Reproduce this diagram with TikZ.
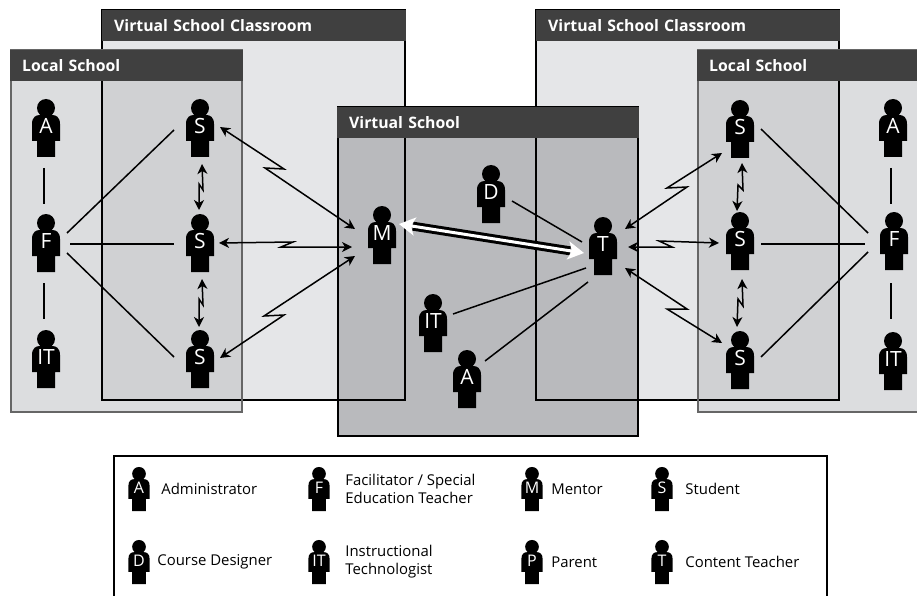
\documentclass[tikz,border=0pt]{standalone}
\usepackage{fontspec}
\setmainfont{Open Sans}
\usetikzlibrary{arrows.meta,calc,positioning}
\definecolor{classfill}{HTML}{E5E6E8}
\definecolor{localfill}{HTML}{DCDDDF}
\definecolor{bothfill}{HTML}{D0D1D3}
\definecolor{virtualfill}{HTML}{B9BABD}
\definecolor{headerfill}{HTML}{404040}
\definecolor{localgray}{HTML}{666666}
\newcommand{\personfig}[2]{%
	\fill [black, shift={(#1)}, scale=#2]
		(0,-20) circle (9)
		(-14,13) -- (-14,-4) .. controls (-14,-11) and (-10,-13) .. (-6,-13) -- (6,-13)
		.. controls (10,-13) and (14,-11) .. (14,-4) -- (14,13) -- (9,13) -- (9,29)
		-- (-9,29) -- (-9,13) -- cycle;
}
\newcommand{\person}[3]{%
	\personfig{#2}{1}
	\node [personletter] (#1) at (#2) {#3};
}
\newcommand{\keyperson}[3]{%
	\personfig{#2}{0.76}
	\node [keyletter] (#1) at (#2) {#3};
}
\tikzstyle{personletter}=[
	rectangle,
	inner sep=0pt,
	minimum width=28pt,
	minimum height=58pt,
	text=white,
	text height=15pt,
	text depth=4pt,
	font=\fontsize{21}{21}\selectfont
]
\tikzstyle{keyletter}=[
	rectangle,
	inner sep=0pt,
	minimum width=22pt,
	minimum height=44pt,
	text=white,
	text height=11.5pt,
	text depth=3pt,
	font=\fontsize{16}{16}\selectfont
]
\tikzstyle{keytext}=[
	inner sep=0pt,
	align=left,
	font=\fontsize{14.9}{18}\selectfont
]
\tikzstyle{header}=[
	rectangle,
	anchor=north west,
	fill=headerfill,
	text=white,
	inner xsep=12pt,
	inner ysep=0pt,
	minimum height=31pt,
	font=\fontsize{15.8}{17}\selectfont\bfseries
]
\tikzstyle{plainlink}=[
	line width=1.5pt
]
\tikzstyle{boltlink}=[
	<->,
	>={Stealth[length=10pt,width=10pt,inset=3pt]},
	line width=1.5pt,
	line join=miter
]
\tikzstyle{classedge}=[
	line width=2pt,
	black
]
\tikzstyle{localedge}=[
	line width=2.2pt,
	localgray
]

\begin{document}
\begin{tikzpicture}[x=1pt,y=-1pt]
\clip (0,0) rectangle (917,596);
% panels
\fill [classfill] (102,10) rectangle (405,400);
\fill [classfill] (536,10) rectangle (839,400);
\fill [localfill] (11,50) rectangle (242,412);
\fill [localfill] (698,50) rectangle (925,412);
\fill [bothfill] (102,50) rectangle (242,400);
\fill [bothfill] (698,50) rectangle (839,400);
\fill [virtualfill] (338,107) rectangle (638,436);
\draw [classedge] (102,10) rectangle (405,400);
\draw [classedge] (536,10) rectangle (839,400);
\draw [localedge] (11,50) rectangle (242,412);
\draw [localedge] (698,50) rectangle (925,412);
\draw [line width=2.5pt] (338,107) rectangle (638,436);
% headers
\node [header, text width=280pt] (ClassLeftHead) at (102,10) {Virtual School Classroom};
\node [header, text width=280pt] (ClassRightHead) at (536,10) {Virtual School Classroom};
\node [header, text width=209pt] (LocalLeftHead) at (10,50) {Local School};
\node [header, text width=209pt] (LocalRightHead) at (697,50) {Local School};
\node [header, text width=278pt] (VirtualHead) at (337,107) {Virtual School};
% people
\person{AdminLeft}{46,128}{A}
\person{FacLeft}{46,243}{F}
\person{TechLeft}{46,359}{IT}
\person{StudentLeftA}{200,128}{S}
\person{StudentLeftB}{200,243}{S}
\person{StudentLeftC}{200,359}{S}
\person{Mentor}{382,235}{M}
\person{Designer}{491,194}{D}
\person{Teacher}{603,246}{T}
\person{TechMid}{433,323}{IT}
\person{AdminMid}{467,379}{A}
\person{StudentRightA}{740,129}{S}
\person{StudentRightB}{740,241}{S}
\person{StudentRightC}{740,360}{S}
\person{AdminRight}{893,128}{A}
\person{FacRight}{894,241}{F}
\person{TechRight}{893,361}{IT}
% left school
\draw [plainlink] ($(AdminLeft)+(-2,40)$) -- ($(FacLeft)+(-2,-39)$);
\draw [plainlink] ($(FacLeft)+(-2,40)$) -- ($(TechLeft)+(-2,-40)$);
\draw [plainlink] ($(FacLeft)+(21,-10)$) -- ($(StudentLeftA)+(-26,2)$);
\draw [plainlink] ($(FacLeft)+(24,1)$) -- ($(StudentLeftB)+(-26,1)$);
\draw [plainlink] ($(FacLeft)+(21,10)$) -- ($(StudentLeftC)+(-26,-2)$);
\draw [boltlink] ($(StudentLeftA)+(2,36)$) -- ($(StudentLeftA)+(3,62)$) -- ($(StudentLeftA)+(-1,56)$) -- ($(StudentLeftB)+(-1,-33)$);
\draw [boltlink] ($(StudentLeftB)+(2,36)$) -- ($(StudentLeftB)+(3,62)$) -- ($(StudentLeftB)+(-1,56)$) -- ($(StudentLeftC)+(-1,-32)$);
% students to mentor
\draw [boltlink] ($(StudentLeftA)+(20,-1)$) -- (284,169) -- (265,168) -- ($(Mentor)+(-27,-6)$);
\draw [boltlink] ($(StudentLeftB)+(19,0)$) -- (293,242) -- (281,247) -- ($(Mentor)+(-30,12)$);
\draw [boltlink] ($(StudentLeftC)+(20,-1)$) -- (284,315) -- (264,316) -- ($(Mentor)+(-27,21)$);
% virtual school
\draw [plainlink] ($(Designer)+(21,7)$) -- ($(Teacher)+(-21,-4)$);
\draw [plainlink] ($(TechMid)+(20,-9)$) -- ($(Teacher)+(-17,22)$);
\draw [plainlink] ($(AdminMid)+(18,-18)$) -- ($(Teacher)+(-15,36)$);
\draw [line width=9pt, shorten <=14pt, shorten >=14pt] ($(Mentor)+(17,-11)$) -- ($(Teacher)+(-19,7)$);
\draw [line width=3pt, white, <->, >={Stealth[length=16pt,width=18pt,inset=4pt]}] ($(Mentor)+(17,-11)$) -- ($(Teacher)+(-19,7)$);
% teacher to students
\draw [boltlink] ($(Teacher)+(22,-17)$) -- (687,187) -- (667,188) -- ($(StudentRightA)+(-18,24)$);
\draw [boltlink] ($(Teacher)+(25,1)$) -- (672,247) -- (659,241) -- ($(StudentRightB)+(-21,2)$);
\draw [boltlink] ($(Teacher)+(22,22)$) -- (687,309) -- (667,309) -- ($(StudentRightC)+(-18,-17)$);
% right school
\draw [boltlink] ($(StudentRightA)+(2,34)$) -- ($(StudentRightA)+(3,61)$) -- ($(StudentRightA)+(-2,56)$) -- ($(StudentRightB)+(-3,-30)$);
\draw [boltlink] ($(StudentRightB)+(2,38)$) -- ($(StudentRightB)+(3,65)$) -- ($(StudentRightB)+(-2,58)$) -- ($(StudentRightC)+(-3,-33)$);
\draw [plainlink] ($(StudentRightA)+(21,0)$) -- ($(FacRight)+(-26,-8)$);
\draw [plainlink] ($(StudentRightB)+(21,3)$) -- ($(FacRight)+(-29,3)$);
\draw [plainlink] ($(StudentRightC)+(21,-3)$) -- ($(FacRight)+(-26,11)$);
\draw [plainlink] ($(AdminRight)+(-2,40)$) -- ($(FacRight)+(-3,-37)$);
\draw [plainlink] ($(FacRight)+(-3,42)$) -- ($(TechRight)+(-2,-42)$);
% key
\draw [line width=2.5pt] (114,600) -- (114,456) -- (827,456) -- (827,600);
\keyperson{KeyAdmin}{139,489}{A}
\node [keytext, right=11pt of KeyAdmin] (KeyAdminText) {Administrator};
\keyperson{KeyFac}{319,489}{F}
\node [keytext, right=15pt of KeyFac] (KeyFacText) {Facilitator / Special\\Education Teacher};
\keyperson{KeyMentor}{532,489}{M}
\node [keytext, right=8pt of KeyMentor] (KeyMentorText) {Mentor};
\keyperson{KeyStudent}{662,489}{S}
\node [keytext, right=12pt of KeyStudent] (KeyStudentText) {Student};
\keyperson{KeyDesigner}{139,562}{D}
\node [keytext, right=7pt of KeyDesigner] (KeyDesignerText) {Course Designer};
\keyperson{KeyTech}{319,562}{IT}
\node [keytext, right=15pt of KeyTech] (KeyTechText) {Instructional\\Technologist};
\keyperson{KeyParent}{532,562}{P}
\node [keytext, right=8pt of KeyParent] (KeyParentText) {Parent};
\keyperson{KeyTeacher}{662,562}{T}
\node [keytext, right=12pt of KeyTeacher] (KeyTeacherText) {Content Teacher};
\end{tikzpicture}
\end{document}
